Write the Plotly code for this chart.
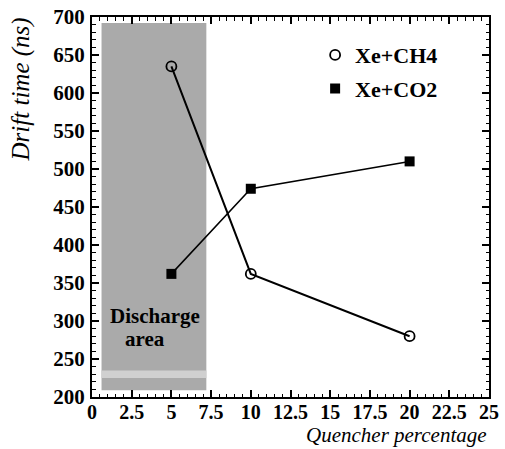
import plotly.graph_objects as go

# Data
quencher = [5, 10, 20]
xe_ch4 = [635, 362, 280]
xe_co2 = [362, 474, 510]
series_names = ["Xe+CH4", "Xe+CO2"]

discharge_x = [0.6, 7.2]
discharge_y = [209, 692]

x_ticks = [0, 2.5, 5, 7.5, 10, 12.5, 15, 17.5, 20, 22.5, 25]
x_labels = ["0", "2.5", "5", "7.5", "10", "12.5", "15", "17.5", "20", "22.5", "25"]
y_ticks = [200, 250, 300, 350, 400, 450, 500, 550, 600, 650, 700]
y_labels = [str(v) for v in y_ticks]

serif = "Liberation Serif"

fig = go.Figure()

# connecting lines (not in legend)
fig.add_trace(go.Scatter(x=quencher, y=xe_ch4, mode="lines", showlegend=False,
                         line=dict(color="black", width=2), hoverinfo="skip"))
fig.add_trace(go.Scatter(x=quencher, y=xe_co2, mode="lines", showlegend=False,
                         line=dict(color="black", width=1.5), hoverinfo="skip"))
# markers (legend)
fig.add_trace(go.Scatter(
    x=quencher, y=xe_ch4, name="<b>" + series_names[0] + "</b>", mode="markers",
    legendgroup="a",
    marker=dict(symbol="circle-open", size=10, color="black", line=dict(width=1.8)),
))
fig.add_trace(go.Scatter(
    x=quencher, y=xe_co2, name="<b>" + series_names[1] + "</b>", mode="markers",
    legendgroup="b",
    marker=dict(symbol="square", size=10, color="black"),
))

# discharge area
fig.add_shape(type="rect", xref="x", yref="y",
              x0=discharge_x[0], x1=discharge_x[1], y0=discharge_y[0], y1=discharge_y[1],
              fillcolor="#aaaaaa", line=dict(width=0), layer="below")
fig.add_shape(type="rect", xref="x", yref="y",
              x0=discharge_x[0], x1=discharge_x[1], y0=225, y1=235,
              fillcolor="#d0d0d0", line=dict(width=0), layer="below")

fig.add_annotation(x=3.95, y=307, xref="x", yref="y", text="<b>Discharge</b>",
                   showarrow=False, font=dict(family=serif, size=21, color="black"))
fig.add_annotation(x=3.35, y=276, xref="x", yref="y", text="<b>area</b>",
                   showarrow=False, font=dict(family=serif, size=21, color="black"))

# axis titles
fig.add_annotation(x=1, y=-0.1368, xref="paper", yref="paper", xanchor="right", yanchor="bottom",
                   text="<i>Quencher percentage</i>", showarrow=False,
                   font=dict(family=serif, size=21, color="black"))
fig.add_annotation(x=-0.178, y=1.005, xref="paper", yref="paper", xanchor="center", yanchor="top",
                   text="<i>Drift time (ns)</i>", textangle=-90, showarrow=False,
                   font=dict(family=serif, size=25, color="black"))

axis_common = dict(
    showgrid=False, zeroline=False, showline=True, linecolor="black", linewidth=2,
    mirror="ticks", ticks="inside", ticklen=7, tickwidth=1.5, tickcolor="black",
    automargin=False,
)

fig.update_xaxes(range=[0, 25], tickvals=x_ticks, ticktext=["<b>" + s + "</b>" for s in x_labels],
                 ticklabelstandoff=-4,
                 tickfont=dict(family=serif, size=20, color="black"),
                 minor=dict(dtick=0.5, ticks="inside", ticklen=3.5, tickcolor="black", tickwidth=1),
                 **axis_common)
fig.update_yaxes(range=[200, 700], tickvals=y_ticks, ticktext=["<b>" + s + "</b>" for s in y_labels],
                 ticklabelstandoff=1,
                 tickfont=dict(family=serif, size=21, color="black"),
                 minor=dict(dtick=10, ticks="inside", ticklen=3.5, tickcolor="black", tickwidth=1),
                 **axis_common)

fig.update_layout(
    width=505, height=449,
    margin=dict(l=92, r=16, t=17, b=52),
    plot_bgcolor="white", paper_bgcolor="white",
    showlegend=True,
    legend=dict(x=0.562, y=0.955, xanchor="left", yanchor="top", bgcolor="rgba(0,0,0,0)",
                font=dict(family=serif, size=22, color="black"), itemwidth=30,
                traceorder="grouped", tracegroupgap=2),
)

# remove the default page margin so the figure fills the window exactly
fig.write_html("out.html", config={"displayModeBar": False},
               post_script="document.body.style.margin='0';")
